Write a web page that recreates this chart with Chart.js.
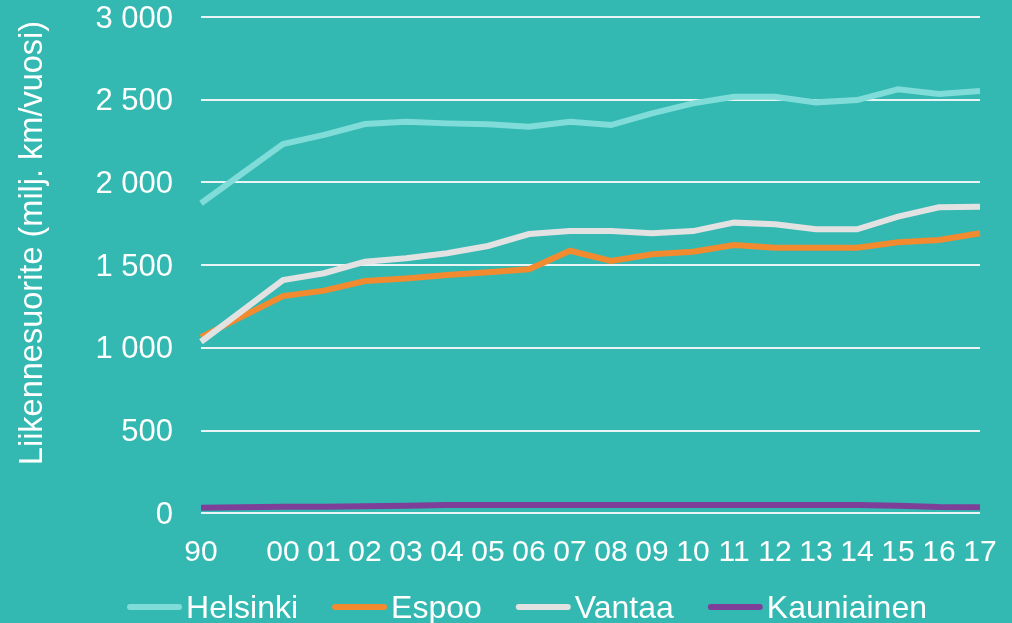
<!DOCTYPE html>
<html lang="fi">
<head>
<meta charset="utf-8">
<script src="https://cdn.jsdelivr.net/npm/chart.js@4.4.1/dist/chart.umd.min.js"></script>
<style>
  html, body { margin: 0; padding: 0; background: #33b9b2; }
  canvas { display: block; }
</style>
</head>
<body>
<canvas id="chart" width="1012" height="623"></canvas>
<script>
// Vuodet (1990, väli, 2000–2017)
const years = ['90', '', '00', '01', '02', '03', '04', '05', '06', '07', '08', '09',
               '10', '11', '12', '13', '14', '15', '16', '17'];

// Liikennesuorite, milj. km / vuosi
const helsinki   = [1874, null, 2232, 2287, 2353, 2367, 2357, 2351, 2337, 2367, 2347, 2418,
                    2478, 2518, 2518, 2484, 2498, 2563, 2535, 2553];
const espoo      = [1065, null, 1313, 1346, 1404, 1420, 1440, 1457, 1475, 1587, 1525, 1566,
                    1581, 1622, 1605, 1605, 1605, 1638, 1652, 1693];
const vantaa     = [1037, null, 1410, 1451, 1521, 1542, 1572, 1616, 1688, 1706, 1706, 1693,
                    1706, 1757, 1747, 1717, 1717, 1793, 1850, 1853];
const kauniainen = [33, null, 40, 40, 42, 45, 50, 50, 50, 50, 50, 50,
                    50, 50, 50, 50, 50, 45, 38, 37];

const seriesNames = ['Helsinki', 'Espoo', 'Vantaa', 'Kauniainen'];
const yTicks = [0, 500, 1000, 1500, 2000, 2500, 3000];
const yTitle = 'Liikennesuorite (milj. km/vuosi)';

const colors = ['#80dcd8', '#f28a30', '#e2e2e2', '#7e3f98'];
const FONT = '"Liberation Sans", Arial, sans-serif';
const TEXT = '#ffffff';

const fmt = v => String(v).replace(/\B(?=(\d{3})+(?!\d))/g, '\u00a0');

// Axis title and line legend, drawn onto the canvas
const extras = {
  id: 'extras',
  afterDraw(chart) {
    const ctx = chart.ctx;
    ctx.save();
    ctx.fillStyle = TEXT;
    ctx.font = '32.5px ' + FONT;
    ctx.translate(42, 243);
    ctx.rotate(-Math.PI / 2);
    ctx.textAlign = 'center';
    ctx.textBaseline = 'alphabetic';
    ctx.fillText(yTitle, 0, 0);
    ctx.restore();

    ctx.save();
    ctx.font = '32px ' + FONT;
    const lineLen = 55, gapText = 4, gapItem = 34;
    const widths = chart.data.datasets.map(d => ctx.measureText(d.label).width);
    const total = widths.reduce((a, w) => a + w + lineLen + gapText, 0) + gapItem * (widths.length - 1);
    let x = 527 - total / 2;
    const yLine = 607, yText = 609;
    chart.data.datasets.forEach((d, i) => {
      ctx.strokeStyle = d.borderColor;
      ctx.lineWidth = 6;
      ctx.lineCap = 'round';
      ctx.beginPath();
      ctx.moveTo(x + 3, yLine);
      ctx.lineTo(x + lineLen - 3, yLine);
      ctx.stroke();
      ctx.fillStyle = TEXT;
      ctx.textAlign = 'left';
      ctx.textBaseline = 'middle';
      ctx.fillText(d.label, x + lineLen + gapText, yText);
      x += lineLen + gapText + widths[i] + gapItem;
    });
    ctx.restore();
  }
};

const values = [helsinki, espoo, vantaa, kauniainen];
const drawOrder = [3, 2, 1, 0];

new Chart(document.getElementById('chart'), {
  type: 'line',
  data: {
    labels: years,
    datasets: seriesNames.map((name, i) => ({
      label: name,
      data: values[i],
      borderColor: colors[i],
      backgroundColor: colors[i],
      borderWidth: 6,
      pointRadius: 0,
      pointHoverRadius: 0,
      tension: 0,
      spanGaps: true,
      order: drawOrder[i]
    }))
  },
  options: {
    responsive: false,
    devicePixelRatio: 1,
    animation: false,
    layout: { padding: { left: 0, right: 32, top: 0, bottom: 53.5 } },
    plugins: {
      legend: { display: false },
      tooltip: { enabled: false }
    },
    scales: {
      x: {
        offset: false,
        grid: { display: false, drawTicks: false },
        border: { display: false },
        afterFit: s => { s.height = 56.2; s.paddingLeft = 0; s.paddingRight = 0; },
        ticks: {
          color: TEXT,
          font: { family: FONT, size: 30 },
          padding: 21,
          maxRotation: 0,
          autoSkip: false
        }
      },
      y: {
        min: yTicks[0],
        max: yTicks[yTicks.length - 1],
        afterBuildTicks: scale => { scale.ticks = yTicks.map(v => ({ value: v })); },
        afterFit: s => { s.width = 201; s.paddingTop = 17; s.paddingBottom = 0; },
        grid: { color: '#e8f5f4', lineWidth: 2, drawTicks: false },
        border: { display: false },
        ticks: {
          color: TEXT,
          font: { family: FONT, size: 31, lineHeight: 1.1 },
          padding: 28,
          labelOffset: 2,
          callback: v => fmt(v)
        }
      }
    }
  },
  plugins: [extras]
});
</script>
</body>
</html>
